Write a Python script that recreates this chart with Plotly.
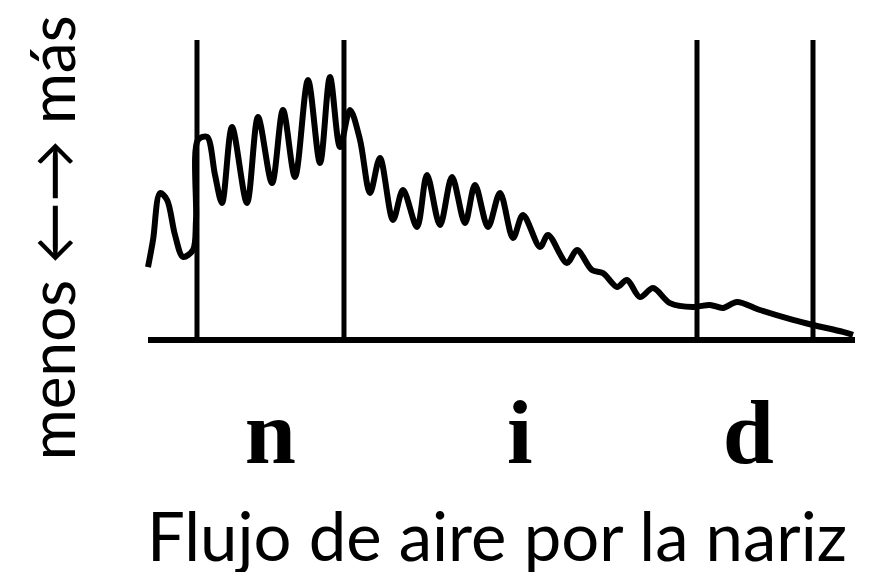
import plotly.graph_objects as go

# Airflow trace (time in % of utterance, airflow in % of scale)
time_pct = [0, 0.71, 1.70, 2.69, 3.82, 4.95, 6.36, 6.79, 7.07, 8.35, 9.48, 10.47, 11.88, 14.00,
            15.56, 17.54, 19.09, 20.79, 22.63, 24.33, 25.74, 27.16, 28.57, 29.99, 31.40, 32.81,
            34.65, 36.07, 38.05, 39.46, 41.30, 43.00, 44.84, 46.25, 48.09, 49.79, 51.63, 53.04,
            55.45, 56.58, 59.26, 60.68, 62.80, 64.36, 66.34, 67.75, 69.59, 71.43, 73.83, 77.09,
            79.49, 81.33, 83.31, 86.56, 91.23, 94.06, 98.30, 99.72]
airflow = [24.3, 33.3, 49.0, 46.7, 35.0, 27.7, 30.0, 40.0, 66.7, 67.7, 55.0, 45.7, 71.0, 45.7,
           74.3, 52.3, 76.7, 54.3, 86.7, 59.0, 87.7, 64.3, 76.7, 66.7, 49.0, 60.7,
           40.0, 50.0, 37.7, 55.0, 38.3, 54.3, 39.0, 51.7, 37.7, 49.0, 34.0, 41.7,
           31.0, 35.0, 25.7, 30.0, 23.3, 22.3, 17.7, 20.0, 14.3, 17.3, 12.3, 11.0,
           11.7, 10.7, 12.7, 10.0, 6.7, 5.0, 2.7, 1.7]

# Segment boundaries (vertical markers)
boundaries = [6.93, 27.72, 77.65, 94.06]
# Segment labels
segment_pos = [17.3, 52.6, 84.9]
segment_labels = ["n", "i", "d"]

x_title = "Flujo de aire por la nariz"
y_title = "menos ←→ más"

fig = go.Figure()
fig.add_trace(go.Scatter(x=time_pct, y=airflow, mode="lines",
                         line=dict(color="black", width=6, shape="spline", smoothing=0.9),
                         hoverinfo="skip", showlegend=False))

for b in boundaries:
    fig.add_shape(type="line", xref="x", yref="y", x0=b, x1=b, y0=0, y1=100,
                  line=dict(color="black", width=5))
fig.add_shape(type="line", xref="x", yref="y", x0=0, x1=100, y0=0, y1=0,
              line=dict(color="black", width=6))

fig.update_layout(
    width=872, height=572,
    margin=dict(l=132, r=18, t=22, b=230),
    paper_bgcolor="white", plot_bgcolor="white",
    xaxis=dict(range=[-1.1315, 100.99], showgrid=False, zeroline=False, showline=False,
               tickvals=segment_pos, ticktext=segment_labels, ticks="",
               tickfont=dict(family="Liberation Serif, serif", size=92, color="black", weight="bold"),
               ticklabelstandoff=20),
    yaxis=dict(range=[-3.333, 103.33], showgrid=False, zeroline=False, showline=False,
               showticklabels=False, ticks=""),
    annotations=[
        dict(text=x_title, xref="paper", yref="paper", x=0.494, y=-0.578,
             xanchor="center", yanchor="middle", showarrow=False,
             font=dict(family="Lato, Open Sans, sans-serif", size=67, color="black")),
        dict(text=y_title, xref="paper", yref="paper", x=-0.123, y=0.35,
             xanchor="center", yanchor="middle", showarrow=False, textangle=-90,
             font=dict(family="Lato, Open Sans, DejaVu Sans, sans-serif", size=62, color="black")),
    ],
)

fig.write_html("out.html")
